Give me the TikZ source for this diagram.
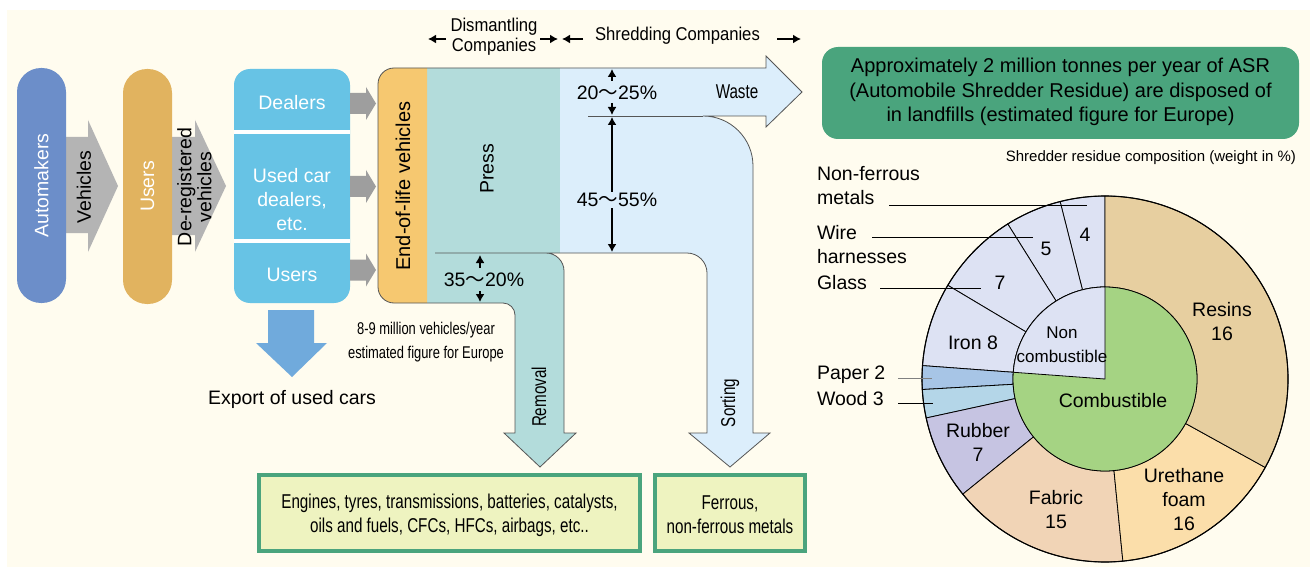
\documentclass[tikz,border=0pt]{standalone}
\usepackage{fontspec}
\setmainfont{Liberation Sans}
\newfontfamily\condfont[FakeStretch=0.76]{Liberation Sans}
\newfontfamily\semicondfont[FakeStretch=0.9]{Liberation Sans}
\newfontfamily\cjkfont{Noto Sans CJK JP}
\usetikzlibrary{arrows.meta}
\newcommand\wtilde{{\cjkfont ～}}
\definecolor{bgcream}{HTML}{FFFCEF}
\definecolor{autoblue}{HTML}{6C8EC9}
\definecolor{userorange}{HTML}{E1B35F}
\definecolor{biggray}{HTML}{B4B4B4}
\definecolor{smallgray}{HTML}{9E9E9E}
\definecolor{dealerblue}{HTML}{67C3E5}
\definecolor{exportblue}{HTML}{70AADC}
\definecolor{elvorange}{HTML}{F6C870}
\definecolor{tealfill}{HTML}{B3DCDB}
\definecolor{lightblue}{HTML}{DCEEFB}
\definecolor{boxgreen}{HTML}{4AA47D}
\definecolor{boxfill}{HTML}{EEF3C0}
\definecolor{lav}{HTML}{DDE2F3}
\definecolor{paperc}{HTML}{A7C5E6}
\definecolor{woodc}{HTML}{B4D6E8}
\definecolor{rubberc}{HTML}{C6C4E2}
\definecolor{fabricc}{HTML}{F1D4B6}
\definecolor{urethanec}{HTML}{FBDEAA}
\definecolor{resinsc}{HTML}{E7CFA0}
\definecolor{combustc}{HTML}{A5D383}
\definecolor{outl}{HTML}{555555}
\begin{document}
\begin{tikzpicture}[x=1pt,y=-1pt,
  every node/.style={inner sep=0pt,outer sep=0pt},
  mainfs/.style={font=\fontsize{19.5}{24}\selectfont,align=center},
  condfs/.style={font=\condfont\fontsize{20}{24}\selectfont,align=center},
  semifs/.style={font=\semicondfont\fontsize{18.5}{20}\selectfont,align=center},
  dimarrow/.style={-{Latex[length=8pt,width=9pt]},line width=1.4pt},
  toparrow/.style={-{Latex[length=8pt,width=9pt]},line width=1.5pt},
  flowline/.style={draw=outl,line width=0.8pt},
  pill/.style={rounded corners=24pt,minimum width=235pt,minimum height=49pt,rotate=90,text=white,mainfs},
  piesep/.style={draw=black,line width=0.8pt},
  leader/.style={draw=black,line width=0.8pt},
  whitetxt/.style={mainfs,text=white}
]
\useasboundingbox (0,0) rectangle (1310,567);
\fill[bgcream] (7,10) rectangle (1310,567);

% ---------- left chain ----------
\fill[biggray] (66,137) -- (88,137) -- (88,120) -- (118,186) -- (88,252) -- (88,233) -- (66,233) -- cycle;
\fill[biggray] (172,137) -- (195,137) -- (195,120) -- (226,186) -- (195,252) -- (195,235) -- (172,235) -- cycle;
\node[pill,fill=autoblue] (auto) at (41.5,185.5) {Automakers};
\node[mainfs,rotate=90] (veh) at (84,187) {Vehicles};
\node[pill,fill=userorange] (users) at (147.5,186.5) {Users};
\node[font=\fontsize{19.5}{20}\selectfont,align=center,rotate=90] (dereg) at (194.5,187) {De-registered\\vehicles};

\node[fill=dealerblue,rounded corners=16pt,minimum width=116pt,minimum height=234pt] (dealers) at (292,186) {};
\draw[white,line width=4pt] (234,132.5) -- (350,132.5);
\draw[white,line width=4pt] (234,240.5) -- (350,240.5);
\node[whitetxt] (dl) at (292,103) {Dealers};
\node[whitetxt] (ucd) at (292,200) {Used car\\dealers,\\etc.};
\node[whitetxt] (us2) at (292,275) {Users};
\foreach \yy in {103.5,186.5,270}
  \fill[smallgray] (350,\yy-10.5) -- (366,\yy-10.5) -- (366,\yy-16.5) -- (376,\yy) -- (366,\yy+16.5) -- (366,\yy+10.5) -- (350,\yy+10.5) -- cycle;

\fill[exportblue] (268,310) -- (314,310) -- (314,343) -- (327,343) -- (292,377) -- (256,343) -- (268,343) -- cycle;
\node[mainfs] (export) at (292,399) {Export of used cars};

% ---------- flow shapes ----------
\fill[tealfill] (427,68) -- (560,68) -- (560,253) -- (546,253) .. controls (555.9,253) and (564,261.1) .. (564,271)
  -- (564,433) -- (576,433) -- (540,467) -- (504,433) -- (515,433) -- (515,315)
  .. controls (515,308.4) and (509.6,303) .. (503,303) -- (427,303) -- cycle;
\fill[lightblue] (560,68) -- (766,68) -- (766,56) -- (802,92) -- (766,127) -- (766,116) -- (703,116)
  .. controls (730.6,116) and (753,138.4) .. (753,166) -- (753,433) -- (770,433) -- (730,467) -- (689,433)
  -- (707,433) -- (707,273) .. controls (707,262) and (698,253) .. (687,253) -- (560,253) -- cycle;
\fill[elvorange] (427,68) -- (394,68) .. controls (385.2,68) and (378,75.2) .. (378,84) -- (378,287)
  .. controls (378,295.8) and (385.2,303) .. (394,303) -- (427,303) -- cycle;
\draw[flowline] (546,253) .. controls (555.9,253) and (564,261.1) .. (564,271) -- (564,433) -- (576,433) -- (540,467)
  -- (504,433) -- (515,433) -- (515,315) .. controls (515,308.4) and (509.6,303) .. (503,303) -- (394,303)
  .. controls (385.2,303) and (378,295.8) .. (378,287) -- (378,84) .. controls (378,75.2) and (385.2,68) .. (394,68)
  -- (766,68) -- (766,56) -- (802,92) -- (766,127) -- (766,116) -- (703,116)
  .. controls (730.6,116) and (753,138.4) .. (753,166) -- (753,433) -- (770,433) -- (730,467) -- (689,433)
  -- (707,433) -- (707,273) .. controls (707,262) and (698,253) .. (687,253) -- (435,253);
\draw[flowline] (588,116) -- (703,116);

\node[mainfs,font=\fontsize{20}{24}\selectfont,rotate=90] (elv) at (403,186) {End-of-life vehicles};
\node[mainfs,rotate=90] (press) at (487,169) {Press};
\node[condfs,rotate=90] (removal) at (539,397) {Removal};
\node[condfs,rotate=90] (sorting) at (730,403) {Sorting};
\node[condfs] (waste) at (737,92) {Waste};

% dimension arrows
\node[mainfs] (p1) at (617,93) {20\wtilde25\%};
\coordinate (p1a) at (612,81); \coordinate (p1b) at (612,69);
\coordinate (p1c) at (612,103); \coordinate (p1d) at (612,115);
\draw[dimarrow] (p1a) -- (p1b);
\draw[dimarrow] (p1c) -- (p1d);
\coordinate (p2a) at (612,117); \coordinate (p2b) at (612,252);
\draw[dimarrow,{Latex[length=8pt,width=9pt]}-{Latex[length=8pt,width=9pt]}] (p2a) -- (p2b);
\node[mainfs,fill=lightblue,inner ysep=1pt] (p2) at (617,200) {45\wtilde55\%};
\node[mainfs] (p3) at (484,280) {35\wtilde20\%};
\coordinate (p3a) at (480,268); \coordinate (p3b) at (480,255);
\coordinate (p3c) at (480,291); \coordinate (p3d) at (480,302);
\draw[dimarrow] (p3a) -- (p3b);
\draw[dimarrow] (p3c) -- (p3d);

\node[font=\condfont\fontsize{17}{24}\selectfont,align=center] (million) at (426,342) {8-9 million vehicles/year\\estimated figure for Europe};

% top labels
\node[semifs] (dism) at (494,37) {Dismantling\\Companies};
\node[semifs] (shred) at (677.5,36) {Shredding Companies};
\coordinate (a1s) at (446,39); \coordinate (a1e) at (428,39);
\coordinate (a2s) at (540,39); \coordinate (a2e) at (558,39);
\coordinate (a3s) at (583,39); \coordinate (a3e) at (562,39);
\coordinate (a4s) at (777,39); \coordinate (a4e) at (801,39);
\draw[toparrow] (a1s) -- (a1e);
\draw[toparrow] (a2s) -- (a2e);
\draw[toparrow] (a3s) -- (a3e);
\draw[toparrow] (a4s) -- (a4e);

% bottom boxes
\node[draw=boxgreen,line width=4pt,fill=boxfill,minimum width=381pt,minimum height=76pt] (engbox) at (449.5,513) {};
\node[condfs] (engtxt) at (449.5,515) {Engines, tyres, transmissions, batteries, catalysts,\\oils and fuels, CFCs, HFCs, airbags, etc..};
\node[draw=boxgreen,line width=4pt,fill=boxfill,minimum width=150pt,minimum height=76pt] (ferbox) at (730,513) {};
\node[condfs] (fertxt) at (730,515) {Ferrous,\\non-ferrous metals};

% ---------- right part ----------
\node[fill=boxgreen,rounded corners=16pt,minimum width=477pt,minimum height=92pt] (asrbox) at (1060.5,93) {};
\node[font=\fontsize{20}{24.5}\selectfont,align=center] (asrtxt) at (1060.5,92) {Approximately 2 million tonnes per year of ASR\\(Automobile Shredder Residue) are disposed of\\in landfills (estimated figure for Europe)};
\node[font=\fontsize{15}{18}\selectfont,anchor=east] (comp) at (1296,158) {Shredder residue composition (weight in \%)};

\begin{scope}[shift={(1105,379)},yscale=-1]
  \foreach \a/\b/\c in {90/104.2/lav,104.2/122.1/lav,122.1/149.2/lav,149.2/175.8/lav,175.8/183.3/paperc,183.3/192.3/woodc,192.3/219/rubberc,219/275.6/fabricc,275.6/331.1/urethanec,331.1/450/resinsc}
    \filldraw[fill=\c,piesep] (\a:92) -- (\a:183) arc[start angle=\a,end angle=\b,radius=183] -- (\b:92) arc[start angle=\b,end angle=\a,radius=92] -- cycle;
  \filldraw[fill=combustc,piesep] (0,0) circle[radius=92];
  \filldraw[fill=lav,piesep] (0,0) -- (90:92) arc[start angle=90,end angle=175.8,radius=92] -- cycle;
  \draw[line width=1.1pt] (0,0) circle[radius=183];
\end{scope}

\node[mainfs] (n4) at (1085,235) {4};
\node[mainfs] (n5) at (1046,249) {5};
\node[mainfs] (n7) at (1000,283) {7};
\node[mainfs] (iron) at (973,343) {Iron 8};
\node[font=\fontsize{17}{24}\selectfont,align=center] (noncomb) at (1062,345) {Non\\combustible};
\node[mainfs] (comb) at (1113,401) {Combustible};
\node[mainfs] (resins) at (1222,322) {Resins\\16};
\node[mainfs] (ureth) at (1184,500) {Urethane\\foam\\16};
\node[mainfs] (fabric) at (1056,510) {Fabric\\15};
\node[mainfs] (rubber) at (978,442) {Rubber\\7};

\node[mainfs,align=left,anchor=west] (lnf) at (817,186) {Non-ferrous\\metals};
\node[mainfs,align=left,anchor=west] (lwire) at (817,245) {Wire\\harnesses};
\node[mainfs,align=left,anchor=west] (lglass) at (817,283) {Glass};
\node[mainfs,align=left,anchor=west] (lpaper) at (817,375) {Paper 2};
\node[mainfs,align=left,anchor=west] (lwood) at (817,399) {Wood 3};
\coordinate (e1) at (1087,205); \coordinate (e2) at (1033,237); \coordinate (e3) at (981,288);
\coordinate (e4) at (932,378); \coordinate (e5) at (933,403);
\draw[leader] (889,205) -- (e1);
\draw[leader] (872,237) -- (e2);
\draw[leader] (880,288) -- (e3);
\draw[leader,draw=gray] (898,378) -- (e4);
\draw[leader] (898,403) -- (e5);
\end{tikzpicture}
\end{document}
